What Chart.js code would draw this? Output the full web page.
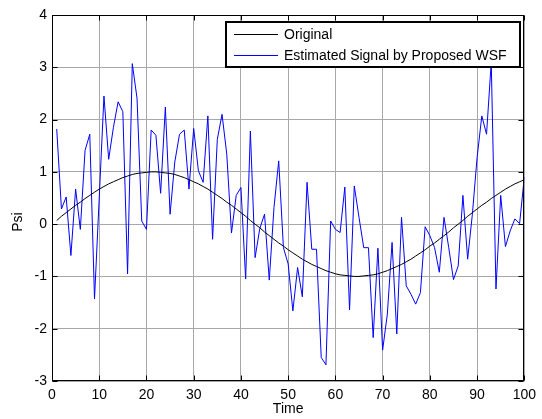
<!DOCTYPE html>
<html>
<head>
<meta charset="utf-8">
<script src="https://cdn.jsdelivr.net/npm/chart.js@4.4.1/dist/chart.umd.min.js"></script>
<style>
  html, body { margin: 0; padding: 0; background: #fff; }
  #wrap { width: 542px; height: 419px; }
</style>
</head>
<body>
<div id="wrap"><canvas id="myChart"></canvas></div>
<script>
let time = [1, 2, 3, 4, 5, 6, 7, 8, 9, 10, 11, 12, 13, 14, 15, 16, 17, 18, 19, 20,
  21, 22, 23, 24, 25, 26, 27, 28, 29, 30, 31, 32, 33, 34, 35, 36, 37, 38, 39, 40,
  41, 42, 43, 44, 45, 46, 47, 48, 49, 50, 51, 52, 53, 54, 55, 56, 57, 58, 59, 60,
  61, 62, 63, 64, 65, 66, 67, 68, 69, 70, 71, 72, 73, 74, 75, 76, 77, 78, 79, 80,
  81, 82, 83, 84, 85, 86, 87, 88, 89, 90, 91, 92, 93, 94, 95, 96, 97, 98, 99, 100];

let original = [0.07, 0.15, 0.22, 0.29, 0.36, 0.42, 0.49, 0.55, 0.61, 0.67,
  0.72, 0.77, 0.81, 0.85, 0.89, 0.92, 0.95, 0.97, 0.98, 0.99,
  1.00, 1.00, 0.99, 0.98, 0.97, 0.95, 0.92, 0.89, 0.85, 0.81,
  0.77, 0.72, 0.67, 0.61, 0.55, 0.49, 0.42, 0.36, 0.29, 0.22,
  0.15, 0.07, 0.00, -0.07, -0.15, -0.22, -0.29, -0.36, -0.42, -0.49,
  -0.55, -0.61, -0.67, -0.72, -0.77, -0.81, -0.85, -0.89, -0.92, -0.95,
  -0.97, -0.98, -0.99, -1.00, -1.00, -0.99, -0.98, -0.97, -0.95, -0.92,
  -0.89, -0.85, -0.81, -0.77, -0.72, -0.67, -0.61, -0.55, -0.49, -0.42,
  -0.36, -0.29, -0.22, -0.15, -0.07, 0.00, 0.07, 0.15, 0.22, 0.29,
  0.36, 0.42, 0.49, 0.55, 0.61, 0.67, 0.72, 0.77, 0.81, 0.85];

let estimated = [1.82, 0.29, 0.52, -0.6, 0.67, -0.1, 1.41, 1.72, -1.43, 0.5,
  2.45, 1.24, 1.85, 2.34, 2.15, -0.95, 3.07, 2.41, 0.06, -0.1,
  1.8, 1.7, 0.59, 2.24, 0.19, 1.19, 1.72, 1.8, 0.67, 1.83,
  1.02, 0.8, 2.07, -0.29, 1.62, 2.1, 1.34, -0.17, 0.55, 0.7,
  -1.05, 1.78, -0.64, -0.08, 0.19, -1.07, 0.32, 1.21, -0.45, -0.76,
  -1.66, -0.83, -1.39, 0.8, -0.48, -0.48, -2.55, -2.69, 0.06, -0.1,
  -0.16, 0.71, -1.64, 0.73, 0.13, -0.45, -0.45, -2.17, -0.46, -2.41,
  -1.72, -0.35, -2.1, 0.13, -1.18, -1.34, -1.53, -1.31, -0.05, -0.22,
  -0.45, -0.92, 0.13, -0.45, -1.06, -0.8, 0.55, -0.67, 0.19, 1.27,
  2.07, 1.72, 3.1, -1.24, 0.55, -0.43, -0.13, 0.1, 0.01, 0.9];

let seriesNames = ['Original', 'Estimated Signal by Proposed WSF'];
let seriesColors = ['#000000', '#0000ff'];

Chart.defaults.font.family = 'Arial, "Liberation Sans", sans-serif';
Chart.defaults.font.size = 14;
Chart.defaults.color = '#000';

// matlab style frame, inner ticks, y label and legend box
let matlabFrame = {
    id: 'matlabFrame',
    afterDraw: (chart) => {
        let ctx = chart.ctx;
        let area = chart.chartArea;
        let xs = chart.scales.x;
        let ys = chart.scales.y;
        let L = Math.round(area.left) + 0.5, R = Math.round(area.right) - 0.5;
        let T = Math.round(area.top) + 0.5, B = Math.round(area.bottom) - 0.5;
        ctx.save();
        ctx.strokeStyle = '#000';
        ctx.lineWidth = 1;
        ctx.beginPath();
        xs.ticks.forEach((t) => {
            let px = Math.round(xs.getPixelForValue(t.value)) + 0.5;
            ctx.moveTo(px, B); ctx.lineTo(px, B - 5);
            ctx.moveTo(px, T); ctx.lineTo(px, T + 5);
        });
        ys.ticks.forEach((t) => {
            let py = Math.round(ys.getPixelForValue(t.value)) + 0.5;
            ctx.moveTo(L, py); ctx.lineTo(L + 5, py);
            ctx.moveTo(R, py); ctx.lineTo(R - 5, py);
        });
        ctx.stroke();
        ctx.strokeRect(L, T, R - L, B - T);

        // y axis label
        ctx.fillStyle = '#000';
        ctx.font = '14px Arial, "Liberation Sans", sans-serif';
        ctx.translate(18, 222);
        ctx.rotate(-Math.PI / 2);
        ctx.textAlign = 'center';
        ctx.textBaseline = 'middle';
        ctx.fillText('Psi', 0, 0);
        ctx.restore();

        // legend
        ctx.save();
        let bw = 294, bh = 45;
        let bx = Math.round(area.right) - 4 - bw;
        let by = Math.round(area.top) + 7;
        ctx.fillStyle = '#fff';
        ctx.fillRect(bx, by, bw, bh);
        ctx.strokeStyle = '#000';
        ctx.lineWidth = 2;
        ctx.strokeRect(bx, by, bw, bh);
        ctx.font = '14px Arial, "Liberation Sans", sans-serif';
        ctx.textBaseline = 'middle';
        ctx.textAlign = 'left';
        chart.data.datasets.forEach((ds, i) => {
            let ly = Math.round(by + 12 + i * 20.5) + 0.5;
            ctx.strokeStyle = ds.borderColor;
            ctx.lineWidth = 1;
            ctx.beginPath();
            ctx.moveTo(bx + 8, ly);
            ctx.lineTo(bx + 52, ly);
            ctx.stroke();
            ctx.fillStyle = '#000';
            ctx.fillText(ds.label, bx + 58, ly + 1);
        });
        ctx.restore();
    }
};

let ctx = document.getElementById('myChart').getContext('2d');

let myChart = new Chart(ctx, {
    type: 'line',
    data: {
        datasets: [{
            label: seriesNames[0],
            data: time.map((t, i) => ({ x: t, y: original[i] })),
            borderColor: seriesColors[0],
            borderWidth: 1,
            pointRadius: 0,
            tension: 0
        }, {
            label: seriesNames[1],
            data: time.map((t, i) => ({ x: t, y: estimated[i] })),
            borderColor: seriesColors[1],
            borderWidth: 1,
            pointRadius: 0,
            tension: 0
        }]
    },
    options: {
        responsive: true,
        maintainAspectRatio: false,
        animation: false,
        devicePixelRatio: 1,
        layout: {
            padding: { top: 15, right: 15, left: 0, bottom: 0 }
        },
        plugins: {
            legend: { display: false },
            tooltip: { enabled: false }
        },
        scales: {
            x: {
                type: 'linear',
                min: 0,
                max: 100,
                border: { display: false },
                grid: { color: '#a8a8a8', drawTicks: false },
                ticks: { stepSize: 10, padding: 6, autoSkip: false, maxRotation: 0 },
                title: { display: true, text: 'Time', padding: { top: 0, bottom: 1 } },
                afterFit: (scale) => { scale.height = 38; }
            },
            y: {
                min: -3,
                max: 4,
                border: { display: false },
                grid: { color: '#a8a8a8', drawTicks: false },
                ticks: { stepSize: 1, padding: 5 },
                afterFit: (scale) => { scale.width = 52; }
            }
        }
    },
    plugins: [matlabFrame]
});
</script>
</body>
</html>
